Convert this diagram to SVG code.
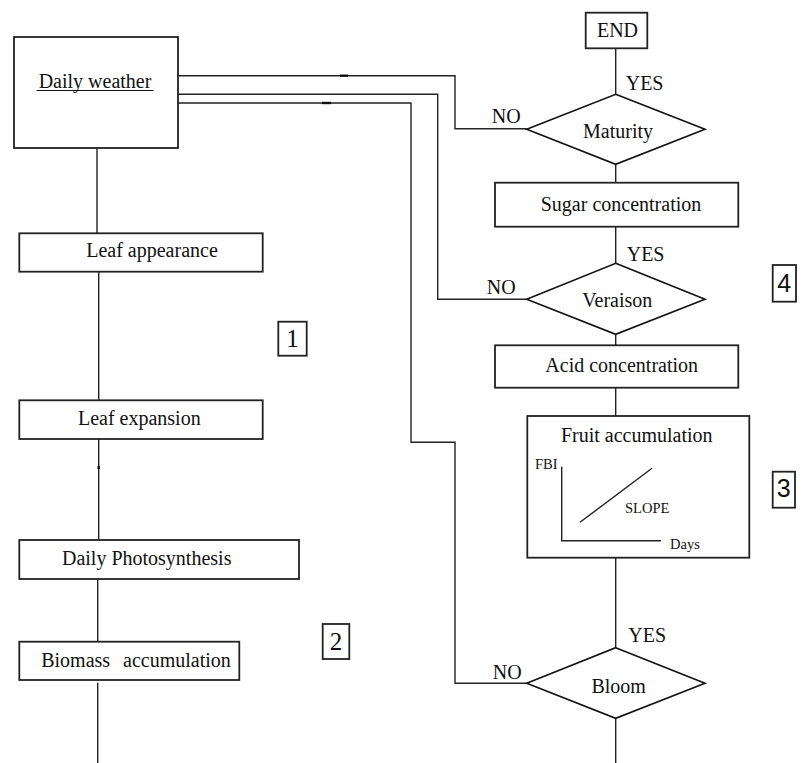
<svg xmlns="http://www.w3.org/2000/svg" width="806" height="763" viewBox="0 0 806 763">
<defs>
<style>
.t{font-family:'Liberation Serif',serif;font-size:20px;text-anchor:middle;fill:#111;}
.l{font-family:'Liberation Serif',serif;font-size:20px;fill:#111;}
.s{font-family:'Liberation Serif',serif;font-size:14.5px;fill:#111;}
.n{font-family:'Liberation Serif',serif;font-size:25px;text-anchor:middle;fill:#111;}
.ns{font-family:'Liberation Sans',sans-serif;font-size:25px;text-anchor:middle;fill:#111;}
.box{fill:#fff;stroke:#222;stroke-width:1.8;}
.dia{fill:#fff;stroke:#111;stroke-width:1.6;}
.c{fill:none;stroke:#222;stroke-width:1.4;}
.tick{fill:none;stroke:#111;stroke-width:2.4;}
</style>
</defs>
<rect width="806" height="763" fill="#fff"/>
<g id="connectors">
<line class="c" x1="97" y1="148" x2="97" y2="233.3"/>
<line class="c" x1="98.7" y1="271.7" x2="98.7" y2="400.3"/>
<line class="c" x1="98.7" y1="439" x2="98.7" y2="540"/>
<line class="c" x1="97.7" y1="579" x2="97.7" y2="641.7"/>
<line class="c" x1="97.7" y1="682.7" x2="97.7" y2="763"/>
<polyline class="c" points="178,75.7 455,75.7 455,128.7 526.7,128.7"/>
<polyline class="c" points="178,94.2 437.7,94.2 437.7,299.3 526.7,299.3"/>
<polyline class="c" points="178,103 411,103 411,442.3 455,442.3 455,683.3 526.7,683.3"/>
<line class="c" x1="615.7" y1="48.3" x2="615.7" y2="94.3"/>
<line class="c" x1="615.7" y1="164.3" x2="615.7" y2="182.7"/>
<line class="c" x1="615.7" y1="226.7" x2="615.7" y2="263.3"/>
<line class="c" x1="615.7" y1="334.3" x2="615.7" y2="345.3"/>
<line class="c" x1="615.7" y1="387.7" x2="615.7" y2="416"/>
<line class="c" x1="615.7" y1="557.7" x2="615.7" y2="647.7"/>
<line class="c" x1="615.7" y1="718.3" x2="615.7" y2="763"/>
<line class="tick" x1="340" y1="75.7" x2="348" y2="75.7"/>
<line class="tick" x1="322" y1="103" x2="331" y2="103"/>
<line class="tick" x1="98.7" y1="466" x2="98.7" y2="469"/>
<text class="l" x="625.7" y="90">YES</text>
<text class="l" x="491.7" y="123">NO</text>
<text class="l" x="626.7" y="260.7">YES</text>
<text class="l" x="486.7" y="294.3">NO</text>
<text class="l" x="628.3" y="642.3">YES</text>
<text class="l" x="492.7" y="679">NO</text>
</g>
<g id="daily-weather">
<rect class="box" x="14" y="37" width="164" height="111"/>
<text class="t" x="95" y="88">Daily weather</text>
<line x1="36.5" y1="90.5" x2="153.5" y2="90.5" stroke="#111" stroke-width="1.2"/>
</g>
<g id="leaf-appearance">
<rect class="box" x="19.3" y="233.3" width="243.4" height="38.4"/>
<text class="t" x="152" y="256.7">Leaf appearance</text>
</g>
<g id="leaf-expansion">
<rect class="box" x="19.3" y="400.3" width="243.4" height="38.7"/>
<text class="t" x="139.3" y="425">Leaf expansion</text>
</g>
<g id="daily-photosynthesis">
<rect class="box" x="19.3" y="540" width="279.7" height="39"/>
<text class="t" x="146.7" y="565">Daily Photosynthesis</text>
</g>
<g id="biomass-accumulation">
<rect class="box" x="19.3" y="641.7" width="220" height="38.3"/>
<text class="t" x="136" y="666.7" word-spacing="8">Biomass accumulation</text>
</g>
<g id="label-1">
<rect class="box" x="278.3" y="321.7" width="28.4" height="34"/>
<text class="n" x="292.5" y="347.3">1</text>
</g>
<g id="label-2">
<rect class="box" x="322.7" y="624" width="26.6" height="35"/>
<text class="n" x="336" y="650">2</text>
</g>
<g id="end">
<rect class="box" x="585.7" y="12.7" width="61.6" height="35.6"/>
<text class="t" x="617.5" y="36.5">END</text>
</g>
<g id="maturity">
<polygon class="dia" points="615.7,94.3 705,129.3 615.7,164.3 526.7,129.3"/>
<text class="t" x="618" y="138">Maturity</text>
</g>
<g id="sugar-concentration">
<rect class="box" x="495" y="182.7" width="243.3" height="44"/>
<text class="t" x="621" y="211">Sugar concentration</text>
</g>
<g id="veraison">
<polygon class="dia" points="615.7,263.3 705,299.3 615.7,334.3 526.7,299.3"/>
<text class="t" x="617.3" y="307">Veraison</text>
</g>
<g id="label-4">
<rect class="box" x="772.7" y="265" width="23.3" height="36.7"/>
<text class="ns" x="784.3" y="292">4</text>
</g>
<g id="acid-concentration">
<rect class="box" x="495" y="345.3" width="243.3" height="42.4"/>
<text class="t" x="621.7" y="371.7">Acid concentration</text>
</g>
<g id="fruit-accumulation">
<rect class="box" x="527.3" y="416" width="222" height="141.7"/>
<text class="t" x="636.7" y="441.7">Fruit accumulation</text>
<polyline class="c" points="561.7,466.7 561.7,540.7 661,540.7"/>
<line class="c" stroke-width="1.8" x1="580" y1="522.3" x2="652" y2="468.3"/>
<text class="s" x="535" y="469">FBI</text>
<text class="s" x="625" y="513.3">SLOPE</text>
<text class="s" x="670" y="549">Days</text>
</g>
<g id="label-3">
<rect class="box" x="772.7" y="471.7" width="22.3" height="36"/>
<text class="ns" x="783.8" y="497">3</text>
</g>
<g id="bloom">
<polygon class="dia" points="615.7,647.7 705,683.3 615.7,718.3 526.7,683.3"/>
<text class="t" x="618.7" y="692.7">Bloom</text>
</g>
</svg>
